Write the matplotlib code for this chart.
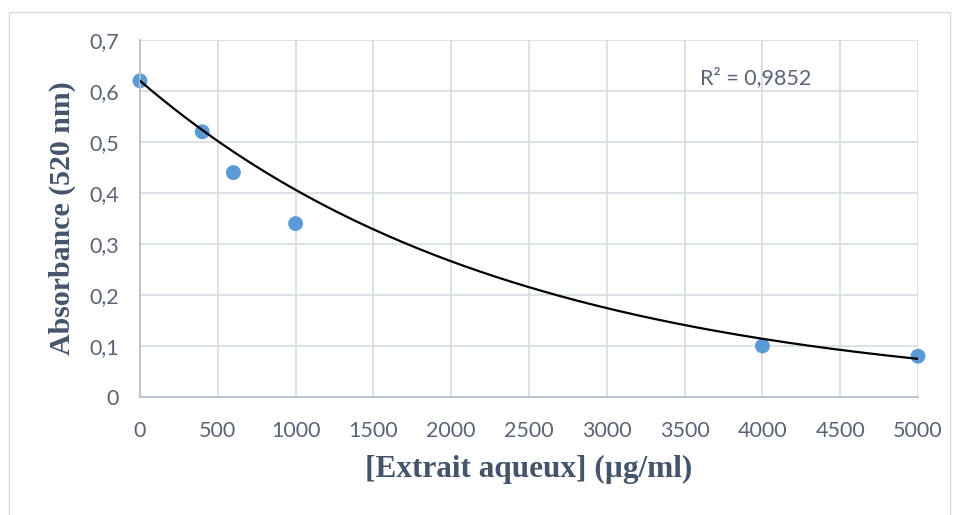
import numpy as np
import matplotlib.pyplot as plt
from matplotlib.patches import Rectangle
from matplotlib.ticker import FuncFormatter

# data
concentration = [0, 400, 600, 1000, 4000, 5000]
absorbance = [0.62, 0.52, 0.44, 0.34, 0.10, 0.08]
x_ticks = [0, 500, 1000, 1500, 2000, 2500, 3000, 3500, 4000, 4500, 5000]
y_ticks = [0, 0.1, 0.2, 0.3, 0.4, 0.5, 0.6, 0.7]
# exponential trendline y = a*exp(b*x), coefficients
trend_a = 0.62
trend_b = -0.000423
r2_label = "R² = 0,9852"

text_col = '#5a6477'
label_col = '#44546a'
grid_col = '#d9dee6'

fig = plt.figure(figsize=(9.59, 5.15), dpi=100)
fig.patches.append(Rectangle((9 / 959, -0.01), 941 / 959, 1 - 12 / 515 + 0.01,
                             transform=fig.transFigure, fill=False,
                             edgecolor='#d9d9d9', linewidth=1))
ax = fig.add_axes([140 / 959, 1 - 397 / 515, 778 / 959, 357 / 515])

xs = np.linspace(concentration[0], concentration[-1], 200)
ax.plot(xs, trend_a * np.exp(trend_b * xs), color='black', lw=1.6, zorder=3)
ax.scatter(concentration, absorbance, s=115, color='#5b9bd5', zorder=2,
           edgecolors='none', clip_on=False)

ax.set_xlim(0, 5000)
ax.set_ylim(0, 0.7)
ax.set_xticks(x_ticks)
ax.set_yticks(y_ticks)
ax.yaxis.set_major_formatter(FuncFormatter(lambda v, p: ('%g' % round(v, 2)).replace('.', ',')))
ax.grid(True, color=grid_col, lw=1.3)
ax.set_axisbelow(True)
for s in ['top', 'right']:
    ax.spines[s].set_visible(False)
for s in ['left', 'bottom']:
    ax.spines[s].set_color('#b8c0cc')
    ax.spines[s].set_linewidth(1.3)
ax.tick_params(length=0, labelsize=15.5, labelcolor=text_col)
ax.tick_params(axis='x', pad=17)
ax.tick_params(axis='y', pad=15)
for lab in ax.get_xticklabels() + ax.get_yticklabels():
    lab.set_fontfamily('Lato')

ax.set_xlabel('[Extrait aqueux] (µg/ml)', family='Liberation Serif',
              fontsize=22.5, fontweight='bold', color=label_col, labelpad=10)
ax.set_ylabel('Absorbance (520 nm)', family='Liberation Serif',
              fontsize=21.5, fontweight='bold', color=label_col, labelpad=10)

ax.text(3600, 0.627, r2_label, family='Lato', fontsize=15.5, color=text_col,
        va='center', ha='left')

fig.savefig('out.png', dpi=100)
